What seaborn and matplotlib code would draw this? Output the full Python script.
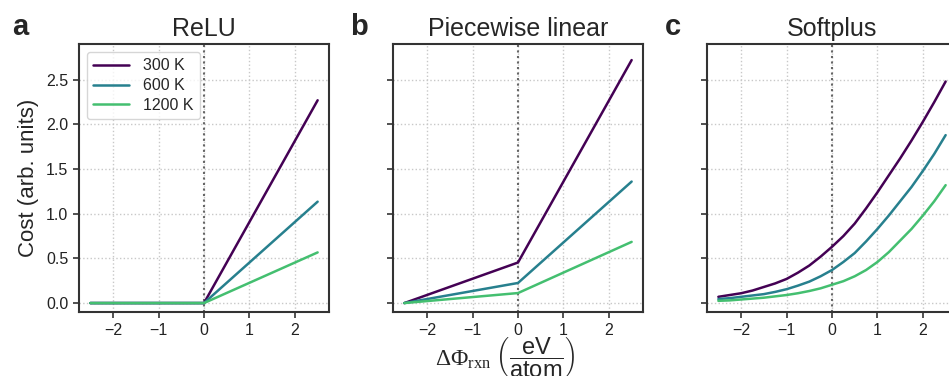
import numpy as np
import pandas as pd
import matplotlib
matplotlib.use("Agg")
import matplotlib.pyplot as plt
import seaborn as sns

# temperatures / legend entries
temps = ["300 K", "600 K", "1200 K"]

# panel a: ReLU cost
x_relu = [-2.5, 0.0, 2.5]
relu_300 = [0.0, 0.0, 2.27]
relu_600 = [0.0, 0.0, 1.135]
relu_1200 = [0.0, 0.0, 0.567]

# panel b: piecewise linear cost
x_pw = [-2.5, 0.0, 2.5]
pw_300 = [0.0, 0.454, 2.72]
pw_600 = [0.0, 0.225, 1.36]
pw_1200 = [0.0, 0.112, 0.685]

# panel c: softplus cost (every 0.25)
x_sp = [-2.5, -2.25, -2.0, -1.75, -1.5, -1.25, -1.0, -0.75, -0.5, -0.25, 0.0,
        0.25, 0.5, 0.75, 1.0, 1.25, 1.5, 1.75, 2.0, 2.25, 2.5]
sp_300 = [0.07, 0.09, 0.11, 0.14, 0.18, 0.22, 0.27, 0.34, 0.42, 0.52, 0.63,
          0.75, 0.89, 1.06, 1.24, 1.43, 1.62, 1.82, 2.03, 2.25, 2.48]
sp_600 = [0.045, 0.055, 0.07, 0.085, 0.10, 0.125, 0.155, 0.195, 0.24, 0.30, 0.37,
          0.46, 0.56, 0.69, 0.83, 0.98, 1.14, 1.30, 1.48, 1.67, 1.88]
sp_1200 = [0.025, 0.03, 0.04, 0.05, 0.06, 0.075, 0.09, 0.11, 0.135, 0.165, 0.205,
           0.245, 0.30, 0.37, 0.46, 0.57, 0.70, 0.83, 0.98, 1.14, 1.32]

titles = ["ReLU", "Piecewise linear", "Softplus"]
letters = ["a", "b", "c"]


def long_df(x, ys):
    frames = []
    for t, y in zip(temps, ys):
        frames.append(pd.DataFrame({"dphi": x, "cost": y, "T": t}))
    return pd.concat(frames, ignore_index=True)


panels = [
    long_df(x_relu, [relu_300, relu_600, relu_1200]),
    long_df(x_pw, [pw_300, pw_600, pw_1200]),
    long_df(x_sp, [sp_300, sp_600, sp_1200]),
]

sns.set_theme(style="ticks")
plt.rcParams["font.family"] = ["Liberation Sans", "DejaVu Sans"]
plt.rcParams["mathtext.fontset"] = "custom"
plt.rcParams["mathtext.rm"] = "Liberation Serif"
plt.rcParams["mathtext.sf"] = "Liberation Sans"
plt.rcParams["mathtext.it"] = "Liberation Serif:italic"
plt.rcParams["axes.edgecolor"] = "#333333"
plt.rcParams["axes.linewidth"] = 1.5
plt.rcParams["xtick.color"] = "#333333"
plt.rcParams["ytick.color"] = "#333333"
plt.rcParams["xtick.labelcolor"] = "#222222"
plt.rcParams["ytick.labelcolor"] = "#222222"

cmap = plt.get_cmap("viridis")
palette = dict(zip(temps, [cmap(0.0), cmap(0.43), cmap(0.7)]))

fig = plt.figure(figsize=(9.49, 3.76), dpi=100)
lefts = [79 / 949, 393 / 949, 707 / 949]
w = 250 / 949
bottom = 1 - 312 / 376
h = (312 - 44) / 376

axes = []
for i, df in enumerate(panels):
    ax = fig.add_axes([lefts[i], bottom, w, h])
    axes.append(ax)
    ax.grid(True, ls=":", color="#c8c8c8", lw=1.0)
    ax.set_axisbelow(True)
    ax.axvline(0, color="#666666", ls=":", lw=1.5, zorder=1)
    sns.lineplot(data=df, x="dphi", y="cost", hue="T", hue_order=temps,
                 palette=palette, lw=1.8, ax=ax, legend=(i == 0), zorder=3)
    ax.set_xlim(-2.75, 2.75)
    ax.set_ylim(-0.1, 2.9)
    ax.set_xticks([-2, -1, 0, 1, 2])
    ax.set_yticks([0, 0.5, 1.0, 1.5, 2.0, 2.5])
    ax.tick_params(labelsize=11.5, length=4.3, width=1.2)
    ax.set_title(titles[i], fontsize=18, pad=6)
    ax.set_xlabel("")
    ax.set_ylabel("")
    if i == 0:
        ax.set_yticklabels(["0.0", "0.5", "1.0", "1.5", "2.0", "2.5"])
        ax.set_ylabel("Cost (arb. units)", fontsize=16, labelpad=5)
        leg = ax.get_legend()
        handles = leg.legend_handles
        labels = [t.get_text() for t in leg.get_texts()]
        ax.legend(handles, labels, loc="upper left", fontsize=11.5,
                  handlelength=2.2, handletextpad=0.9, labelspacing=0.3,
                  borderaxespad=0.5, frameon=True)
    else:
        ax.set_yticklabels([])

axes[1].set_xlabel(r"$\Delta\Phi_{\mathrm{rxn}}\ \left(\dfrac{\mathsf{eV}}{\mathsf{atom}}\right)$",
                   fontsize=17)
axes[1].xaxis.set_label_coords(0.45, -(336 - 312) / 268)

for i, letter in enumerate(letters):
    fig.text([12, 350, 665][i] / 949, 1 - 35 / 376, letter, fontsize=21,
             fontweight="bold", va="baseline", ha="left")

fig.savefig("out.png", dpi=100)
